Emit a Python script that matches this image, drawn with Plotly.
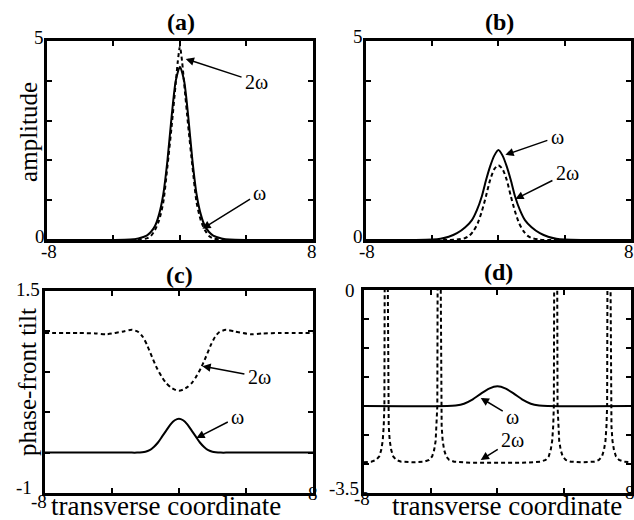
import plotly.graph_objects as go

# ---------------- data ----------------
# (a) amplitude
xa_w = [-8, -4, -3, -2.5, -2, -1.75, -1.5, -1.25, -1, -0.75, -0.5, -0.25, 0,
        0.25, 0.5, 0.75, 1, 1.25, 1.5, 1.75, 2, 2.5, 3, 4, 8]
ya_w = [0, 0, 0.01, 0.04, 0.11, 0.2, 0.35, 0.65, 1.15, 2.0, 3.1, 4.0, 4.35,
        4.0, 3.1, 2.0, 1.15, 0.65, 0.35, 0.2, 0.11, 0.04, 0.01, 0, 0]
xa_2w = [-8, -3, -2.5, -2, -1.75, -1.5, -1.25, -1, -0.75, -0.5, -0.25, -0.125, 0,
         0.125, 0.25, 0.5, 0.75, 1, 1.25, 1.5, 1.75, 2, 2.5, 3, 8]
ya_2w = [0, 0, 0.01, 0.04, 0.1, 0.25, 0.5, 0.95, 1.85, 2.85, 3.95, 4.5, 4.86,
         4.5, 3.95, 2.85, 1.85, 0.95, 0.5, 0.25, 0.1, 0.04, 0.01, 0, 0]

# (b) amplitude
xb_w = [-8, -5, -4, -3.5, -3, -2.5, -2, -1.6, -1.3, -1, -0.75, -0.5, -0.25, 0,
        0.25, 0.5, 0.75, 1, 1.3, 1.6, 2, 2.5, 3, 3.5, 4, 5, 8]
yb_w = [0, 0, 0.01, 0.03, 0.08, 0.17, 0.32, 0.5, 0.75, 1.1, 1.5, 1.85, 2.12, 2.26,
        2.12, 1.85, 1.5, 1.1, 0.75, 0.5, 0.32, 0.17, 0.08, 0.03, 0.01, 0, 0]
xb_2w = [-8, -3, -2.5, -2, -1.75, -1.5, -1.25, -1, -0.75, -0.5, -0.25, 0,
         0.25, 0.5, 0.75, 1, 1.25, 1.5, 1.75, 2, 2.5, 3, 8]
yb_2w = [0, 0, 0.01, 0.05, 0.11, 0.23, 0.42, 0.72, 1.1, 1.51, 1.78, 1.88,
         1.78, 1.51, 1.1, 0.72, 0.42, 0.23, 0.11, 0.05, 0.01, 0, 0]

# (c) phase-front tilt
xc_w = [-8, -3, -2.5, -2, -1.75, -1.5, -1.25, -1, -0.75, -0.5, -0.25, 0,
        0.25, 0.5, 0.75, 1, 1.25, 1.5, 1.75, 2, 2.5, 3, 8]
yc_w = [-0.5, -0.5, -0.5, -0.49, -0.47, -0.43, -0.375, -0.3, -0.225, -0.15, -0.1, -0.08,
        -0.1, -0.15, -0.225, -0.3, -0.375, -0.43, -0.47, -0.49, -0.5, -0.5, -0.5]
xc_2w = [-8, -6, -5, -4.3, -3.3, -2.8, -2.4, -2.15, -1.9, -1.6, -1.3, -1.0, -0.8, -0.5, -0.25, 0,
         0.25, 0.5, 0.8, 1.0, 1.3, 1.6, 1.9, 2.15, 2.4, 2.8, 3.3, 4.3, 5, 6, 8]
yc_2w = [0.98, 0.98, 0.975, 0.965, 1.0, 1.02, 0.99, 0.93, 0.83, 0.68, 0.54, 0.43, 0.37, 0.31, 0.28, 0.265,
         0.28, 0.31, 0.37, 0.43, 0.54, 0.68, 0.83, 0.93, 0.99, 1.02, 1.0, 0.965, 0.975, 0.98, 0.98]

# (d) phase-front tilt
xd_w = [-8, -3, -2.5, -2, -1.5, -1, -0.5, 0, 0.5, 1, 1.5, 2, 2.5, 3, 8]
yd_w = [-2.0, -2.0, -1.99, -1.96, -1.89, -1.79, -1.70, -1.66, -1.70, -1.79, -1.89, -1.96, -1.99, -2.0, -2.0]
xd_2w = [-8.0, -7.7,
         -7.56, -7.26, -7.08, -6.96, -6.87, -6.81, -6.77, -6.75, -6.66, -6.57, -6.55, -6.51, -6.45, -6.36, -6.24, -6.06, -5.76,
         -5.0,
         -4.39, -4.09, -3.91, -3.79, -3.70, -3.64, -3.60, -3.58, -3.49, -3.40, -3.38, -3.34, -3.28, -3.19, -3.07, -2.89, -2.59,
         -1.5, 0.0, 1.5,
         2.59, 2.89, 3.07, 3.19, 3.28, 3.34, 3.38, 3.40, 3.49, 3.58, 3.60, 3.64, 3.70, 3.79, 3.91, 4.09, 4.39,
         5.0,
         5.78, 6.08, 6.26, 6.38, 6.47, 6.53, 6.57, 6.59, 6.68, 6.77, 6.79, 6.83, 6.89, 6.98, 7.10, 7.28, 7.58,
         8.0]
yd_2w = [-2.97, -2.97,
         -2.96, -2.93, -2.87, -2.76, -2.6, -2.35, -2.0, 0.3, 0.6, 0.3, -2.0, -2.35, -2.6, -2.76, -2.87, -2.93, -2.96,
         -2.97,
         -2.96, -2.93, -2.87, -2.76, -2.6, -2.35, -2.0, 0.3, 0.6, 0.3, -2.0, -2.35, -2.6, -2.76, -2.87, -2.93, -2.96,
         -2.98, -2.98, -2.98,
         -2.96, -2.93, -2.87, -2.76, -2.6, -2.35, -2.0, 0.3, 0.6, 0.3, -2.0, -2.35, -2.6, -2.76, -2.87, -2.93, -2.96,
         -2.97,
         -2.96, -2.93, -2.87, -2.76, -2.6, -2.35, -2.0, 0.3, 0.6, 0.3, -2.0, -2.35, -2.6, -2.76, -2.87, -2.93, -2.96,
         -2.97]

# axis ranges / ticks
x_range = [-8, 8]
x_ticks = [-8, -4, 0, 4, 8]
amp_range = [0, 5]
amp_ticks = [0, 1, 2, 3, 4, 5]
c_range = [-1, 1.5]
c_ticks = [-1, -0.5, 0, 0.5, 1, 1.5]
d_range = [-3.5, 0]
d_ticks = [-3.5, -3, -2.5, -2, -1.5, -1, -0.5, 0]

panel_titles = ["(a)", "(b)", "(c)", "(d)"]
y_titles = ["amplitude", "phase-front tilt"]
x_title = "transverse coordinate"
lab_w = "ω"
lab_2w = "2ω"

# ---------------- figure ----------------
W, H = 634, 520
FONT = "Liberation Serif"
fig = go.Figure()

SOLID = dict(color="black", width=2)
DASH = dict(color="black", width=2, dash="4px,3px")


def add(x, y, sfx, line, spline=True):
    ln = dict(line)
    if spline:
        ln.update(shape="spline", smoothing=0.7)
    fig.add_trace(go.Scatter(x=x, y=y, mode="lines", line=ln,
                             xaxis="x" + sfx, yaxis="y" + sfx,
                             hoverinfo="skip", showlegend=False))


add(xa_w, ya_w, "", SOLID)
add(xa_2w, ya_2w, "", DASH)
add(xb_w, yb_w, "2", SOLID)
add(xb_2w, yb_2w, "2", DASH)
add(xc_w, yc_w, "3", SOLID)
add(xc_2w, yc_2w, "3", DASH)
add(xd_w, yd_w, "4", SOLID)
add(xd_2w, yd_2w, "4", DASH, spline=False)

common = dict(showline=True, linecolor="black", linewidth=2.5, mirror="allticks",
              ticks="inside", ticklen=5, tickwidth=1.5, tickcolor="black",
              showgrid=False, zeroline=False, showticklabels=False, fixedrange=True)


def px_x(a, b):
    return [a / W, b / W]


def px_y(top, bottom):
    return [1 - bottom / H, 1 - top / H]


layout = dict(
    width=W, height=H, margin=dict(l=0, r=0, t=0, b=0), autosize=False,
    paper_bgcolor="white", plot_bgcolor="white", showlegend=False,
    font=dict(family=FONT, color="black"),
    xaxis=dict(common, domain=px_x(47, 314), range=x_range, tickvals=x_ticks, anchor="y"),
    yaxis=dict(common, domain=px_y(41, 240), range=amp_range, tickvals=amp_ticks, anchor="x"),
    xaxis2=dict(common, domain=px_x(367, 633), range=x_range, tickvals=x_ticks, anchor="y2"),
    yaxis2=dict(common, domain=px_y(41, 240), range=amp_range, tickvals=amp_ticks, anchor="x2"),
    xaxis3=dict(common, domain=px_x(45, 314), range=x_range, tickvals=x_ticks, anchor="y3"),
    yaxis3=dict(common, domain=px_y(291, 493), range=c_range, tickvals=c_ticks, anchor="x3"),
    xaxis4=dict(common, domain=px_x(365, 633), range=x_range, tickvals=x_ticks, anchor="y4"),
    yaxis4=dict(common, domain=px_y(290, 493), range=d_range, tickvals=d_ticks, anchor="x4"),
)
fig.update_layout(**layout)

ann = []
TICKF = dict(family=FONT, size=19, color="black")


def tlab(text, sfx, x, y, dx, dy):
    ann.append(dict(text=text, xref="x" + sfx, yref="y" + sfx, x=x, y=y,
                    xshift=dx, yshift=dy, showarrow=False, font=TICKF,
                    xanchor="center", yanchor="middle"))


# tick labels (only the end values are labelled)
tlab(str(amp_range[1]), "", -8, amp_range[1], -8, 3)
tlab(str(amp_range[0]), "", -8, amp_range[0], -7, 3)
tlab(str(x_range[0]), "", x_range[0], amp_range[0], 2, -12)
tlab(str(x_range[1]), "", x_range[1], amp_range[0], -1, -12)

tlab(str(amp_range[1]), "2", -8, amp_range[1], -8, 4)
tlab(str(amp_range[0]), "2", -8, amp_range[0], -8, 3)
tlab(str(x_range[0]), "2", x_range[0], amp_range[0], 1, -12)
tlab(str(x_range[1]), "2", x_range[1], amp_range[0], -2, -12)

tlab(str(c_range[1]), "3", -8, c_range[1], -17, 2)
tlab(str(c_range[0]), "3", -8, c_range[0], -21, 6)
tlab(str(x_range[0]), "3", x_range[0], c_range[0], -6, -8)
tlab(str(x_range[1]), "3", x_range[1], c_range[0], 0, 0)

tlab(str(d_range[1]), "4", -8, d_range[1], -14, 0)
tlab(str(d_range[0]), "4", -8, d_range[0], -20, 5)
tlab(str(x_range[0]), "4", x_range[0], d_range[0], -2, -5)
tlab(str(x_range[1]), "4", x_range[1], d_range[0], -1, 1)

# panel titles
for t, (cx, cy) in zip(panel_titles, [(182, 22), (501, 22), (180, 275), (500, 272)]):
    ann.append(dict(text="<b>%s</b>" % t, xref="paper", yref="paper", x=cx / W, y=1 - cy / H,
                    showarrow=False, font=dict(family=FONT, size=24, color="black"),
                    xanchor="center", yanchor="middle"))

# axis titles
AXF = dict(family=FONT, size=25, color="black")
AXF2 = dict(family=FONT, size=27, color="black")
ann.append(dict(text=y_titles[0], xref="paper", yref="paper", x=28 / W, y=1 - 132 / H,
                textangle=-90, showarrow=False, font=AXF, xanchor="center", yanchor="middle"))
ann.append(dict(text=y_titles[1], xref="paper", yref="paper", x=27 / W, y=1 - 382 / H,
                textangle=-90, showarrow=False, font=AXF, xanchor="center", yanchor="middle"))
for cx in (167, 509):
    ann.append(dict(text=x_title, xref="paper", yref="paper", x=cx / W, y=1 - 506 / H,
                    showarrow=False, font=AXF2, xanchor="center", yanchor="middle"))

# curve labels with arrows
LBF = dict(family=FONT, size=20, color="black")


def arrow(text, sfx, hx, hy, tx, ty):
    ann.append(dict(text=text, xref="x" + sfx, yref="y" + sfx, x=hx, y=hy,
                    axref="x" + sfx, ayref="y" + sfx, ax=tx, ay=ty,
                    showarrow=True, arrowhead=2, arrowsize=1.1, arrowwidth=1.5,
                    arrowcolor="black", font=LBF, standoff=0, startstandoff=2))


arrow(lab_2w, "", 0.35, 4.55, 4.6, 3.97)
arrow(lab_w, "", 1.35, 0.28, 4.8, 1.18)
arrow(lab_w, "2", 0.42, 2.14, 3.55, 2.59)
arrow(lab_2w, "2", 1.02, 1.03, 4.15, 1.68)
arrow(lab_2w, "3", 1.4, 0.57, 4.8, 0.44)
arrow(lab_w, "3", 1.04, -0.32, 3.5, -0.06)
arrow(lab_w, "4", -1.0, -1.86, 0.9, -2.19)
arrow(lab_2w, "4", -1.0, -2.93, 0.9, -2.59)

fig.update_layout(annotations=ann)
fig.write_html("out.html", config={"displayModeBar": False},
               post_script="document.body.style.margin='0';document.body.style.overflow='hidden';")
